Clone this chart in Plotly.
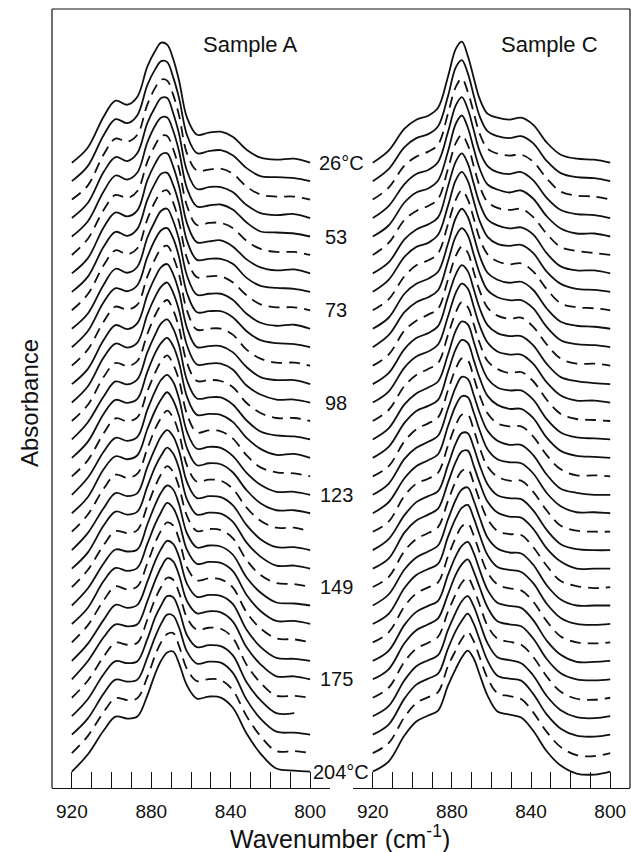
import plotly.graph_objects as go

# ---------------- data ----------------
WAVENUMBERS = [920, 912, 904, 898, 892, 887, 882, 878, 875, 872, 869, 866,
               862, 857, 851, 845, 839, 832, 825, 817, 808, 800]

LABEL_INDEX = [0, 4, 8, 13, 18, 23, 28, 33]
LABEL_TEXT = ["26°C", "53", "73", "98", "123", "149", "175", "204°C"]

# Sample A: absorbance (arb. units) of the 34 spectra at each wavenumber (top = 26 °C)
a_920 = [0,0,0,0,0,0,0,0,0,0, 0,0,0,0,0,0,0,0,0,0, 0,0,0,0,0,0,0,0,0,0, 0,0,0,0]
a_912 = [15,15,14,15,15,16,15,15,16,15, 16,16,15,16,16,17,16,16,17,16, 17,17,16,17,17,16,17,17,18,17, 17,16,17,17]
a_904 = [46,46,45,46,45,45,46,45,45,44, 45,44,44,45,44,43,44,43,43,44, 43,42,43,42,42,43,42,41,42,41, 42,41,41,41]
a_898 = [62,62,61,61,61,60,61,60,60,60, 59,59,59,59,58,58,58,58,57,57, 57,57,57,56,56,56,56,56,55,55, 55,55,55,55]
a_892 = [58,58,58,57,57,57,57,56,56,56, 56,56,55,55,55,55,55,55,54,54, 54,54,54,54,54,53,53,53,53,53, 53,53,53,53]
a_887 = [66,66,65,65,64,64,63,63,62,62, 62,61,61,60,60,60,59,59,58,58, 58,57,57,57,56,56,56,56,55,55, 55,55,55,55]
a_882 = [96,96,95,95,94,93,93,92,91,91, 90,89,89,88,87,87,86,85,85,84, 83,83,82,81,81,80,79,79,78,78, 77,77,76,76]
a_878 = [112,112,112,111,111,110,110,109,109,108, 108,107,107,106,106,105,105,104,104,103, 103,102,102,101,101,100,100,100,99,99, 99,98,98,98]
a_875 = [120,120,120,120,119,119,119,118,118,118, 117,117,117,116,116,116,115,115,115,114, 114,114,113,113,113,112,112,112,112,111, 111,111,111,111]
a_872 = [118,119,119,120,119,119,120,119,120,120, 119,120,120,120,121,120,120,121,120,121, 121,120,121,121,120,121,120,120,121,120, 120,120,119,119]
a_869 = [104,104,105,105,106,106,107,107,108,108, 109,109,110,110,111,111,112,112,113,113, 114,114,115,115,116,116,117,117,118,118, 119,119,120,120]
a_866 = [82,83,84,84,85,86,87,88,88,89, 90,91,92,92,93,94,95,96,96,97, 98,99,100,100,101,102,103,104,104,105, 106,107,107,108]
a_862 = [45,46,46,47,48,49,50,51,52,53, 54,55,56,57,58,59,61,62,63,65, 66,68,69,71,72,74,75,77,78,80, 81,83,84,86]
a_857 = [28,28,29,29,30,30,31,32,33,34, 35,36,37,38,40,41,43,44,46,48, 50,52,54,56,58,60,62,64,66,68, 69,71,72,73]
a_851 = [30,30,30,31,31,32,32,33,34,35, 36,37,38,39,41,42,44,46,48,50, 52,54,56,58,60,62,64,66,68,70, 71,73,74,75]
a_845 = [31,31,31,31,32,32,33,33,34,35, 36,37,38,39,40,42,43,45,47,49, 51,53,55,57,59,61,63,65,67,69, 70,72,73,74]
a_839 = [26,26,26,26,27,27,27,28,28,29, 30,31,32,33,34,35,36,38,39,41, 43,45,47,49,51,53,55,57,58,60, 61,62,63,64]
a_832 = [13,13,13,13,14,14,14,14,15,15, 16,16,17,17,18,19,20,21,22,23, 24,25,26,27,28,29,30,31,32,33, 34,35,37,38]
a_825 = [5,5,5,5,5,6,6,6,6,6, 7,7,7,8,8,8,9,9,10,10, 11,11,12,12,13,13,14,14,15,15, 16,16,17,18]
a_817 = [3,4,3,3,4,3,3,4,3,3, 4,3,4,3,3,4,3,4,3,3, 4,3,3,4,3,3,4,3,3,2, 3,3,2,3]
a_808 = [4,3,3,4,3,3,4,3,3,4, 3,3,4,3,3,3,4,3,3,3, 4,3,3,3,2,3,3,2,3,2, 3,2,2,1]
a_800 = [0,0,0,0,0,0,0,0,0,0, 0,0,0,0,0,0,0,0,0,0, 0,0,0,0,0,0,0,0,0,0, None,0,0,0]

# Sample C
c_920 = [0,0,0,0,0,0,0,0,0,0, 0,0,0,0,0,0,0,0,0,0, 0,0,0,0,0,0,0,0,0,0, 0,0,0,0]
c_912 = [12,12,12,12,11,12,11,12,11,11, 12,11,11,11,11,11,11,10,11,11, 10,11,10,10,11,10,10,10,10,10, 10,10,10,10]
c_904 = [34,34,34,34,34,35,34,35,34,35, 35,35,35,35,35,35,35,35,36,35, 36,35,36,36,36,36,36,36,36,36, 36,36,36,36]
c_898 = [43,43,43,44,44,44,44,45,45,45, 45,45,46,46,46,46,47,47,47,47, 48,48,48,48,48,49,49,49,49,49, 50,50,50,50]
c_892 = [47,47,48,48,48,49,49,49,50,50, 50,51,51,51,52,52,52,53,53,53, 53,54,54,54,54,55,55,55,55,55, 56,56,56,56]
c_887 = [55,55,55,56,56,56,56,57,57,57, 57,57,58,58,58,58,58,59,59,59, 59,59,60,60,60,60,60,60,61,61, 61,61,61,61]
c_882 = [86,85,86,86,85,86,87,86,86,85, 86,86,87,86,86,85,86,86,86,87, 86,85,86,86,86,87,86,86,85,86, 86,86,87,86]
c_878 = [114,114,113,113,113,112,112,112,111,111, 111,110,110,110,109,109,109,108,108,108, 107,107,107,106,106,106,105,105,105,104, 104,104,103,103]
c_875 = [121,121,121,121,121,120,120,120,120,120, 119,119,119,119,119,118,118,118,118,117, 117,117,117,116,116,116,116,115,115,115, 115,114,114,114]
c_872 = [107,108,108,109,109,110,110,111,111,112, 112,113,113,114,114,115,115,116,116,116, 117,117,118,118,118,119,119,119,120,120, 120,121,121,121]
c_869 = [85,86,87,88,88,89,90,91,92,93, 93,94,95,96,97,98,98,99,100,101, 102,103,103,104,105,106,107,108,108,109, 110,111,112,113]
c_866 = [64,65,66,67,68,69,70,71,72,73, 74,75,76,77,78,79,80,81,82,83, 84,85,86,87,88,89,90,91,92,93, 94,95,96,97]
c_862 = [49,50,51,52,52,53,54,55,56,56, 57,58,59,60,60,61,62,63,64,64, 65,66,67,68,68,69,70,71,72,72, 73,74,75,76]
c_857 = [45,45,46,46,47,47,48,48,49,49, 50,50,51,51,52,52,53,53,54,54, 55,55,56,56,57,57,58,58,58,59, 59,59,60,60]
c_851 = [43,43,44,44,44,45,45,46,46,46, 47,47,48,48,48,49,49,50,50,51, 51,52,52,53,53,54,54,55,55,56, 56,56,57,57]
c_845 = [45,45,45,46,46,46,46,47,47,47, 47,48,48,48,49,49,49,50,50,50, 51,51,51,52,52,52,52,53,53,53, 53,54,54,54]
c_839 = [38,38,38,38,38,38,39,39,39,39, 39,39,39,39,40,40,40,40,40,40, 40,40,40,40,41,41,41,41,41,41, 41,41,41,41]
c_832 = [20,20,21,20,20,21,20,20,21,20, 20,21,20,20,21,20,20,21,20,20, 21,20,20,21,20,20,21,20,20,21, 20,20,21,20]
c_825 = [8,8,8,8,8,8,7,8,7,7, 7,7,7,7,7,7,7,7,6,7, 6,6,7,6,6,6,6,6,6,6, 6,6,6,6]
c_817 = [4,4,4,4,3,4,3,3,3,3, 3,2,3,2,2,2,2,1,2,1, 1,1,0,1,0,0,0,-1,0,-1, -1,-1,-2,-2]
c_808 = [3,3,3,3,3,2,3,2,2,2, 2,2,1,2,1,1,1,1,0,1, 0,0,0,-1,0,-1,-1,-1,-1,-2, -2,-2,-3,-3]
c_800 = [0,0,0,0,0,0,0,0,0,0, 0,0,0,0,0,0,0,0,0,0, 0,0,0,0,0,0,0,0,0,0, 0,0,0,0]

A_COLS = [a_920, a_912, a_904, a_898, a_892, a_887, a_882, a_878, a_875, a_872, a_869,
          a_866, a_862, a_857, a_851, a_845, a_839, a_832, a_825, a_817, a_808, a_800]
C_COLS = [c_920, c_912, c_904, c_898, c_892, c_887, c_882, c_878, c_875, c_872, c_869,
          c_866, c_862, c_857, c_851, c_845, c_839, c_832, c_825, c_817, c_808, c_800]
N_SPECTRA = len(a_920)

# ---------------- layout constants (window pixels) ----------------
W, H = 631, 852
PLOT_L, PLOT_R, PLOT_T, PLOT_B = 52, 630, 9, 788   # plot area in window pixels
PW = PLOT_R - PLOT_L
PH = PLOT_B - PLOT_T
TOP_BASE = 625.3      # y of first spectrum baseline (plot units)
STEP = 18.45          # vertical offset between stacked spectra
FONT = "Liberation Sans, Arial, Helvetica, sans-serif"


def px2paper_x(px):
    return (px - PLOT_L) / PW


def px2paper_y(py):
    return (PLOT_B - py) / PH


fig = go.Figure()
for panel, cols, xa in (("A", A_COLS, "x"), ("C", C_COLS, "x2")):
    for i in range(N_SPECTRA):
        base = TOP_BASE - STEP * i
        ys = [None if col[i] is None else base + col[i] for col in cols]
        dashed = (i % 3 == 2)
        fig.add_trace(go.Scatter(
            x=WAVENUMBERS, y=ys, xaxis=xa, yaxis="y", mode="lines",
            line=dict(color="#111111", width=1.8, shape="spline", smoothing=1.0,
                      dash="11px,7px" if dashed else "solid"),
            hoverinfo="skip", showlegend=False))

tickvals = [920, 910, 900, 890, 880, 870, 860, 850, 840, 830, 820, 810, 800]
ticktext = [str(v) if v % 40 == 0 else "" for v in tickvals]
xcommon = dict(range=[930, 790], showline=True, linecolor="#111111", linewidth=1.2,
               ticks="inside", ticklen=16, tickwidth=1.2, tickcolor="#111111",
               tickvals=tickvals, ticktext=ticktext, showgrid=False, zeroline=False,
               tickfont=dict(family=FONT, size=19, color="#111111"), anchor="y",
               ticklabelstandoff=6)

fig.update_layout(
    width=W, height=H,
    margin=dict(l=PLOT_L, r=W - PLOT_R, t=PLOT_T, b=H - PLOT_B, pad=0),
    paper_bgcolor="white", plot_bgcolor="white",
    xaxis=dict(domain=[0, px2paper_x(330)], **xcommon),
    xaxis2=dict(domain=[px2paper_x(353), 1], **xcommon),
    yaxis=dict(range=[0, PH], visible=False, anchor="x"),
)

# frame (top, left, right)
for x0, y0, x1, y1 in ((0, 1, 1, 1), (0, 0, 0, 1), (1, 0, 1, 1)):
    fig.add_shape(type="line", xref="paper", yref="paper", x0=x0, y0=y0, x1=x1, y1=y1,
                  line=dict(color="#111111", width=1.2))

ann = []
ann.append(dict(text="Sample A", x=px2paper_x(250), y=px2paper_y(44), size=22))
ann.append(dict(text="Sample C", x=px2paper_x(549), y=px2paper_y(44), size=22))
for idx, txt in zip(LABEL_INDEX, LABEL_TEXT):
    cx = 341 if "°" in txt else 336
    ann.append(dict(text=txt, x=px2paper_x(cx), y=px2paper_y(162.7 + STEP * idx), size=20))
for a in ann:
    fig.add_annotation(xref="paper", yref="paper", x=a["x"], y=a["y"], text=a["text"],
                       showarrow=False, xanchor="center", yanchor="middle",
                       font=dict(family=FONT, size=a["size"], color="#111111"))

fig.add_annotation(xref="paper", yref="paper", x=px2paper_x(30), y=px2paper_y(403),
                   text="Absorbance", textangle=-90, showarrow=False,
                   xanchor="center", yanchor="middle",
                   font=dict(family=FONT, size=24, color="#111111"))
fig.add_annotation(xref="paper", yref="paper", x=px2paper_x(340), y=px2paper_y(837),
                   text="Wavenumber (cm<sup>-1</sup>)", showarrow=False,
                   xanchor="center", yanchor="middle",
                   font=dict(family=FONT, size=25, color="#111111"))

fig.write_html("out.html",
               config={"displayModeBar": False},
               post_script="document.body.style.margin='0';"
                           "document.body.style.overflow='hidden';")
